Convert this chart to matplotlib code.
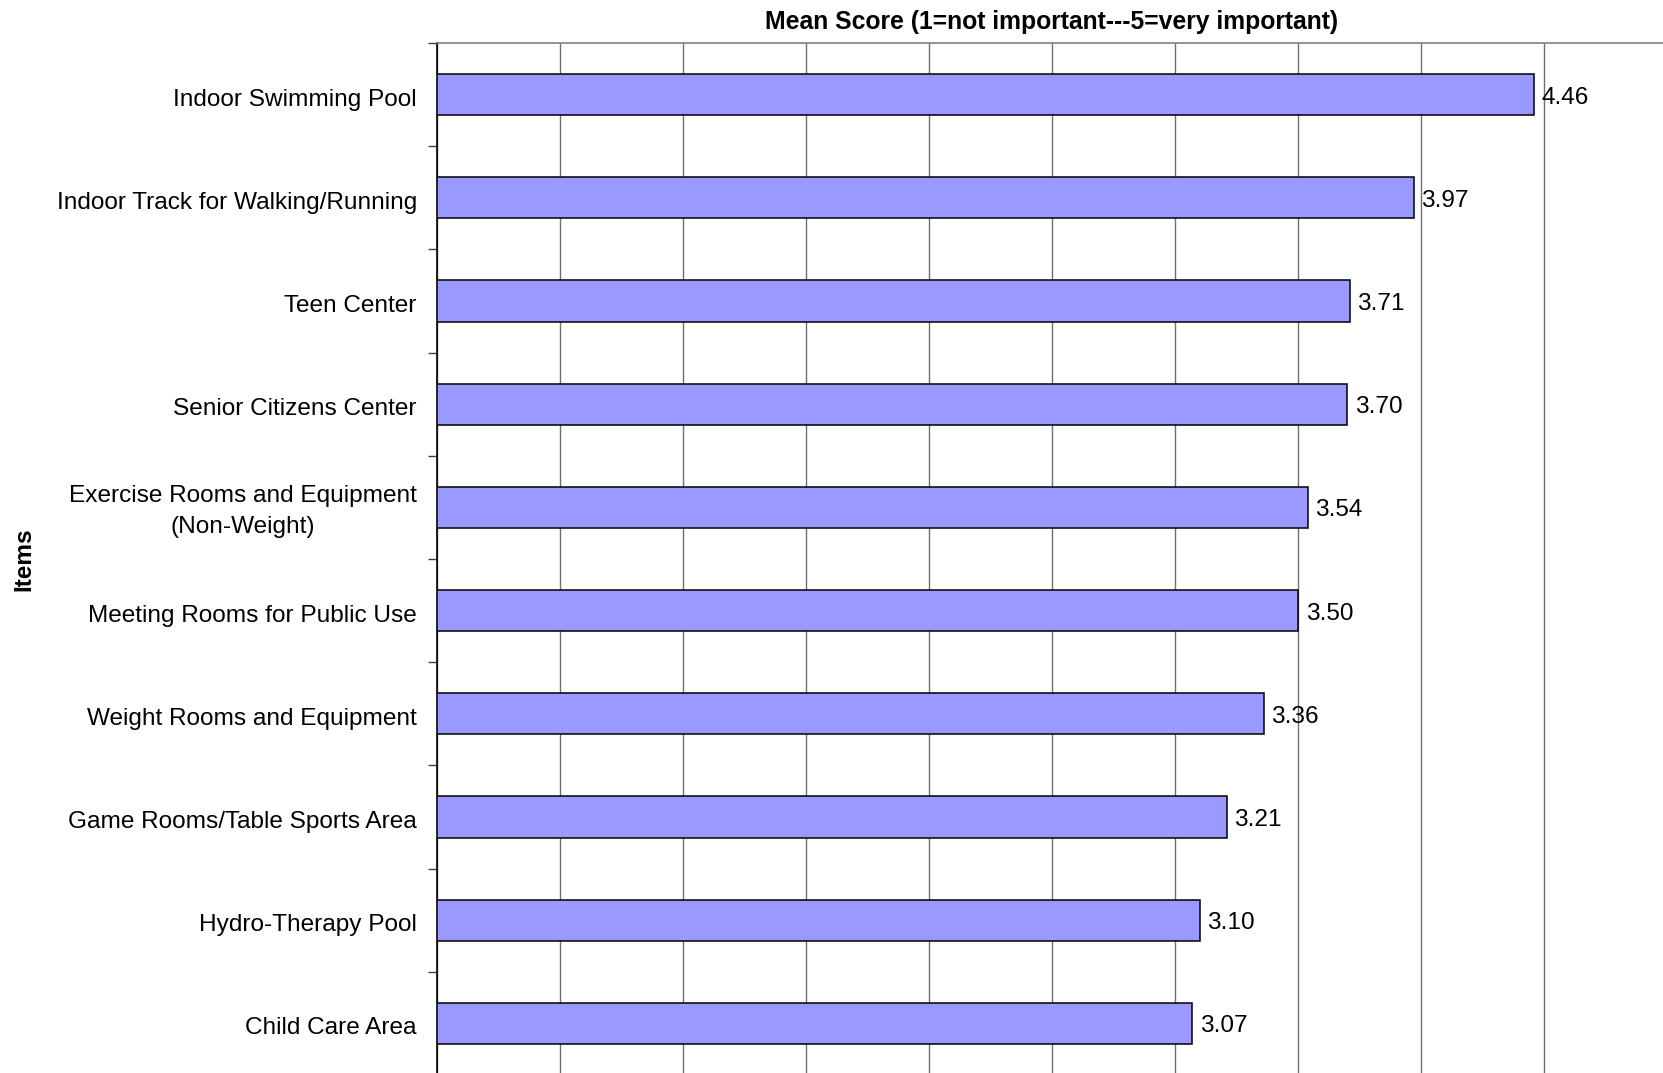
import matplotlib
matplotlib.use("Agg")
import matplotlib.pyplot as plt
from matplotlib.transforms import ScaledTranslation
import numpy as np

categories = [
    "Indoor Swimming Pool",
    "Indoor Track for Walking/Running",
    "Teen Center",
    "Senior Citizens Center",
    "Exercise Rooms and Equipment\n(Non-Weight)",
    "Meeting Rooms for Public Use",
    "Weight Rooms and Equipment",
    "Game Rooms/Table Sports Area",
    "Hydro-Therapy Pool",
    "Child Care Area",
]
scores = [4.46, 3.97, 3.71, 3.70, 3.54, 3.50, 3.36, 3.21, 3.10, 3.07]
value_labels = ["4.46", "3.97", "3.71", "3.70", "3.54", "3.50", "3.36", "3.21", "3.10", "3.07"]
title = "Mean Score (1=not important---5=very important)"
ylabel = "Items"

plt.rcParams['font.family'] = ['Liberation Sans', 'DejaVu Sans']

W, H = 1663, 1073
fig = plt.figure(figsize=(W / 100, H / 100), dpi=100)
left_px, top_px = 437, 43
width_px, height_px = 1230, 1032
ax = fig.add_axes([left_px / W, (H - top_px - height_px) / H, width_px / W, height_px / H])

y = np.arange(len(categories))
ax.barh(y, scores, height=0.4, color="#9999FF", edgecolor="black", linewidth=1.1, zorder=3)

ax.set_xlim(0, 5)
ax.set_ylim(len(categories) - 0.5, -0.5)

ax.set_xticks(np.arange(0, 5.01, 0.5))
ax.xaxis.grid(True, color="#707070", linewidth=1.0, zorder=0)
ax.tick_params(axis="x", length=0, labelbottom=False, labeltop=False)

ax.set_yticks(y)
ax.set_yticklabels(categories, fontsize=17.6, multialignment="center", linespacing=1.55)
ax.set_yticks(np.arange(-0.5, len(categories), 1.0), minor=True)
ax.tick_params(axis="y", which="major", length=0, pad=14.5)
ax.tick_params(axis="y", which="minor", length=6.5, width=1.0, color="#404040", direction="out")
for lab in ax.get_yticklabels():
    dy = 3.0 if "\n" in lab.get_text() else -2.5
    lab.set_transform(lab.get_transform() + ScaledTranslation(0, dy / 100, fig.dpi_scale_trans))

for side in ["right", "bottom"]:
    ax.spines[side].set_visible(False)
ax.spines["left"].set_color("black")
ax.spines["left"].set_linewidth(1.2)
ax.spines["top"].set_color("#808080")
ax.spines["top"].set_linewidth(1.2)

for yi, v, lab in zip(y, scores, value_labels):
    ax.annotate(lab, (v, yi), xytext=(5.5, -2.2), textcoords="offset points",
                va="center", ha="left", fontsize=17.6, zorder=4)

ax.set_title(title, fontsize=17.8, fontweight="bold", pad=10)
fig.text(24 / W, 1 - 559 / H, ylabel, rotation=90, fontsize=17.6, fontweight="bold",
         ha="center", va="center")

fig.savefig("out.png", dpi=100)
